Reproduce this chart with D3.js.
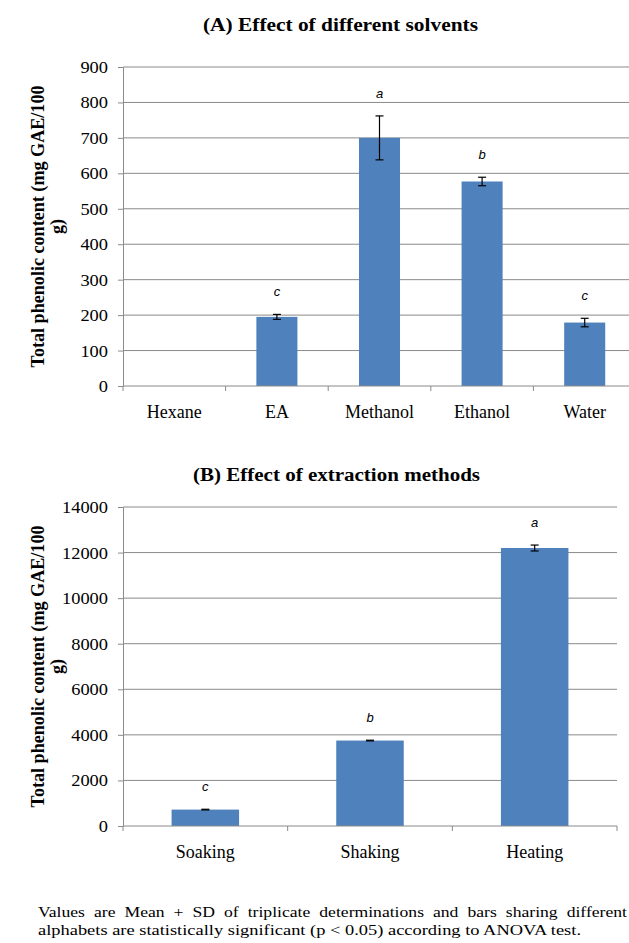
<!DOCTYPE HTML>
<html lang="en">
<head>
<meta charset="UTF-8">
<title>Total phenolic content</title>
<style>
  body { margin: 0; background: #fff; }
  svg { display: block; }
</style>
</head>
<body>
<script src="https://cdn.jsdelivr.net/npm/d3@7"></script>
<script type="text/javascript">
  // panel A: solvents
  var solvents       = ['Hexane', 'EA', 'Methanol', 'Ethanol', 'Water'];
  var solventMeans   = [0, 195, 700, 577, 179];
  var solventSD      = [0, 7, 62, 12, 12];
  var solventLetters = ['', 'c', 'a', 'b', 'c'];
  var solventTicks   = [0, 100, 200, 300, 400, 500, 600, 700, 800, 900];

  // panel B: extraction methods
  var methods        = ['Soaking', 'Shaking', 'Heating'];
  var methodMeans    = [720, 3750, 12200];
  var methodSD       = [15, 15, 130];
  var methodLetters  = ['c', 'b', 'a'];
  var methodTicks    = [0, 2000, 4000, 6000, 8000, 10000, 12000, 14000];

  var serif = '"Liberation Serif", "Times New Roman", serif',
      grid  = '#8a8a8a',
      blue  = '#4f81bd';

  var svg = d3.select('body').append('svg')
      .attr('width', 629)
      .attr('height', 943);

  function panel(o) {
    var g = svg.append('g');

    var x = d3.scaleBand()
        .domain(o.cats)
        .range([o.left, o.right]);
    var y = d3.scaleLinear()
        .domain([0, d3.max(o.ticks)])
        .range([o.bottom, o.top]);

    // title (the source image is stretched sideways, so force the width)
    g.append('text')
      .attr('x', o.titleX - o.titleW / 2)
      .attr('y', o.titleY)
      .attr('textLength', o.titleW)
      .attr('lengthAdjust', 'spacingAndGlyphs')
      .attr('font-family', serif)
      .attr('font-weight', 'bold')
      .attr('font-size', 18)
      .text(o.title);

    // gridlines
    g.selectAll('line.grid')
        .data(o.ticks.slice(1))
      .enter().append('line')
        .attr('class', 'grid')
        .attr('x1', o.left)
        .attr('x2', o.right)
        .attr('y1', function(d) { return y(d); })
        .attr('y2', function(d) { return y(d); })
        .attr('stroke', grid)
        .attr('stroke-width', 1);

    // y axis
    var ya = g.append('g')
        .attr('transform', 'translate(' + o.left + ',0)')
        .call(d3.axisLeft(y).tickValues(o.ticks).tickSize(5).tickPadding(10)
          .tickFormat(d3.format('d')))
        .attr('font-family', serif)
        .attr('font-size', 17);
    ya.select('.domain').attr('stroke', grid);
    ya.selectAll('.tick line').attr('stroke', grid);
    ya.selectAll('.tick text')
      .attr('fill', '#000')
      .attr('textLength', function(d) { return String(d).length * 9.2; })
      .attr('lengthAdjust', 'spacingAndGlyphs');

    // bars
    var bw = x.bandwidth() * o.barRatio;
    g.selectAll('rect.bar')
        .data(o.means)
      .enter().append('rect')
        .attr('class', 'bar')
        .attr('fill', blue)
        .attr('x', function(d, i) { return x(o.cats[i]) + (x.bandwidth() - bw) / 2; })
        .attr('width', bw)
        .attr('y', function(d) { return y(d); })
        .attr('height', function(d) { return y(0) - y(d); });

    // x axis line + boundary ticks
    var bounds = o.cats.map(function(c) { return x(c); }).concat([o.right]);
    g.append('line')
      .attr('x1', o.left).attr('x2', o.right)
      .attr('y1', y(0)).attr('y2', y(0))
      .attr('stroke', grid);
    g.selectAll('line.xt')
        .data(bounds)
      .enter().append('line')
        .attr('class', 'xt')
        .attr('x1', function(d) { return d; })
        .attr('x2', function(d) { return d; })
        .attr('y1', y(0))
        .attr('y2', y(0) + 5)
        .attr('stroke', grid);

    g.selectAll('text.cat')
        .data(o.cats)
      .enter().append('text')
        .attr('class', 'cat')
        .attr('x', function(d) { return x(d) + x.bandwidth() / 2; })
        .attr('y', o.catY)
        .attr('text-anchor', 'middle')
        .attr('font-family', serif)
        .attr('font-size', 18)
        .text(function(d) { return d; });

    // error bars
    var eb = g.selectAll('g.err')
        .data(o.means.map(function(m, i) { return {m: m, sd: o.sd[i], c: o.cats[i]}; })
          .filter(function(d) { return d.m > 0; }))
      .enter().append('g')
        .attr('class', 'err')
        .attr('stroke', '#000')
        .attr('stroke-width', 1.2);
    eb.append('line')
      .attr('x1', function(d) { return x(d.c) + x.bandwidth() / 2; })
      .attr('x2', function(d) { return x(d.c) + x.bandwidth() / 2; })
      .attr('y1', function(d) { return y(d.m + d.sd); })
      .attr('y2', function(d) { return y(d.m - d.sd); });
    eb.selectAll('line.cap')
        .data(function(d) { return [d.m + d.sd, d.m - d.sd].map(function(v) { return {v: v, c: d.c}; }); })
      .enter().append('line')
        .attr('class', 'cap')
        .attr('x1', function(d) { return x(d.c) + x.bandwidth() / 2 - 4; })
        .attr('x2', function(d) { return x(d.c) + x.bandwidth() / 2 + 4; })
        .attr('y1', function(d) { return y(d.v); })
        .attr('y2', function(d) { return y(d.v); });

    // significance letters
    g.selectAll('text.sig')
        .data(o.letters)
      .enter().append('text')
        .attr('class', 'sig')
        .attr('x', function(d, i) { return x(o.cats[i]) + x.bandwidth() / 2; })
        .attr('y', function(d, i) { return y(o.means[i] + o.sd[i]) - 18; })
        .attr('text-anchor', 'middle')
        .attr('font-family', '"Liberation Sans", Arial, sans-serif')
        .attr('font-style', 'italic')
        .attr('font-size', 13)
        .text(function(d) { return d; });

    // y label, two lines
    var cy = (o.top + o.bottom) / 2;
    var lab = g.append('text')
        .attr('transform', 'translate(' + o.labX + ',' + cy + ') rotate(-90)')
        .attr('font-family', serif)
        .attr('font-weight', 'bold')
        .attr('font-size', 18);
    lab.append('tspan')
      .attr('x', -141).attr('y', 0)
      .attr('textLength', 282)
      .attr('lengthAdjust', 'spacingAndGlyphs')
      .text('Total phenolic content (mg GAE/100');
    lab.append('tspan')
      .attr('x', 0).attr('y', 19)
      .attr('text-anchor', 'middle')
      .text('g)');
  }

  panel({
    cats: solvents, means: solventMeans, sd: solventSD, letters: solventLetters,
    ticks: solventTicks, title: '(A) Effect of different solvents',
    left: 123, right: 636, top: 67, bottom: 386, barRatio: 0.4,
    titleX: 340.5, titleW: 275, titleY: 31, catY: 418, labX: 44
  });

  panel({
    cats: methods, means: methodMeans, sd: methodSD, letters: methodLetters,
    ticks: methodTicks, title: '(B) Effect of extraction methods',
    left: 123, right: 617, top: 507, bottom: 826, barRatio: 0.41,
    titleX: 336.5, titleW: 287, titleY: 481, catY: 858, labX: 44
  });

  // footnote; first line is justified to the right edge
  var note1 = ['Values', 'are', 'Mean', '+', 'SD', 'of', 'triplicate', 'determinations',
               'and', 'bars', 'sharing', 'different'];
  var note2 = 'alphabets are statistically significant (p < 0.05) according to ANOVA test.';
  var nt = svg.append('g')
      .attr('font-family', serif)
      .attr('font-size', 15);
  var words = nt.selectAll('text.w')
      .data(note1)
    .enter().append('text')
      .attr('class', 'w')
      .attr('y', 917)
      .text(function(d) { return d; });
  var widths = [];
  words.each(function() { widths.push(this.getComputedTextLength()); });
  var k = (627 - 38 - 9 * (note1.length - 1)) / d3.sum(widths);
  widths = widths.map(function(w) { return w * k; });
  words.attr('textLength', function(d, i) { return widths[i]; })
    .attr('lengthAdjust', 'spacingAndGlyphs');
  var gap = (627 - 38 - d3.sum(widths)) / (note1.length - 1);
  var cx = 38;
  words.attr('x', function(d, i) { var p = cx; cx += widths[i] + gap; return p; });
  nt.append('text')
    .attr('x', 38)
    .attr('y', 935)
    .attr('textLength', 543)
    .attr('lengthAdjust', 'spacingAndGlyphs')
    .text(note2);
</script>
</body>
</html>
